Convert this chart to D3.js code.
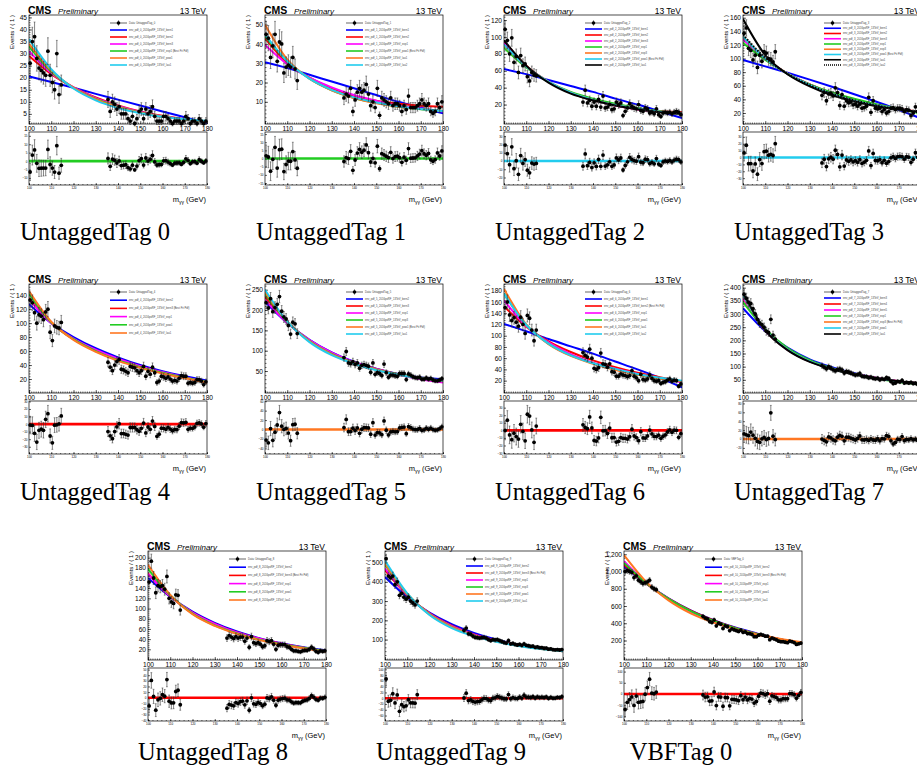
<!DOCTYPE html>
<html>
<head>
<meta charset="utf-8">
<script src="https://cdn.jsdelivr.net/npm/d3@7"></script>
<style>
  body { margin: 0; background: #fff; }
  svg { display: block; }
  .tick text { font-family: "Liberation Sans", Arial, sans-serif; }
</style>
</head>
<body>
<svg id="chart" width="917" height="784"></svg>
<script>
// ---- shared binning ---------------------------------------------------------
// diphoton mass bin centres (GeV); the signal window 115-135 is blinded
const binCenters = [100.5, 101.5, 102.5, 103.5, 104.5, 105.5, 106.5, 107.5, 108.5, 109.5,
  110.5, 111.5, 112.5, 113.5, 114.5,
  135.5, 136.5, 137.5, 138.5, 139.5, 140.5, 141.5, 142.5, 143.5, 144.5,
  145.5, 146.5, 147.5, 148.5, 149.5, 150.5, 151.5, 152.5, 153.5, 154.5,
  155.5, 156.5, 157.5, 158.5, 159.5, 160.5, 161.5, 162.5, 163.5, 164.5,
  165.5, 166.5, 167.5, 168.5, 169.5, 170.5, 171.5, 172.5, 173.5, 174.5,
  175.5, 176.5, 177.5, 178.5, 179.5];
// mass points at which each background function is tabulated
const fitMass = [100, 110, 120, 130, 140, 150, 160, 170, 180];
const xTickValues = [100, 110, 120, 130, 140, 150, 160, 170, 180];

const categoryNames = ["UntaggedTag 0", "UntaggedTag 1", "UntaggedTag 2", "UntaggedTag 3",
  "UntaggedTag 4", "UntaggedTag 5", "UntaggedTag 6", "UntaggedTag 7",
  "UntaggedTag 8", "UntaggedTag 9", "VBFTag 0"];
const dataNames = ["UntaggedTag_0", "UntaggedTag_1", "UntaggedTag_2", "UntaggedTag_3",
  "UntaggedTag_4", "UntaggedTag_5", "UntaggedTag_6", "UntaggedTag_7",
  "UntaggedTag_8", "UntaggedTag_9", "VBFTag_0"];

// ---- observed events per bin ----------------------------------------------
const eventsTag0 = [26, 35, 37, 28, 24, 23, 22, 21, 31, 21, 18, 15, 30, 13, 17,
  11, 6, 10, 9, 7, 8, 5, 5, 5, 3, 2, 4, 1, 3, 6, 7, 3, 7, 5, 6, 8, 4, 2, 2, 2,
  4, 4, 3, 2, 1, 2, 2, 2, 1, 2, 4, 3, 1, 2, 2, 1, 3, 2, 1, 2];
const eventsTag1 = [45, 43, 33, 39, 45, 31, 41, 40, 25, 28, 29, 28, 33, 27, 21,
  12, 14, 13, 17, 5, 11, 15, 17, 15, 16, 19, 14, 8, 10, 7, 17, 3, 12, 11, 10,
  9, 12, 8, 9, 9, 8, 5, 8, 6, 13, 7, 7, 7, 8, 9, 11, 9, 8, 9, 5, 4, 5, 9, 7, 10];
const eventsTag2 = [109, 96, 80, 99, 70, 77, 58, 78, 66, 68, 53, 48, 58, 55, 54,
  23, 37, 22, 25, 18, 23, 18, 26, 17, 30, 16, 17, 20, 14, 15, 23, 20, 22, 7, 12,
  16, 21, 18, 16, 15, 20, 13, 12, 16, 15, 10, 11, 9, 15, 8, 6, 10, 11, 10, 11, 9, 11, 12, 11, 8];
const eventsTag3 = [137, 145, 115, 112, 98, 105, 87, 105, 96, 110, 108, 100, 99, 95, 110,
  46, 50, 38, 48, 49, 45, 57, 50, 31, 47, 30, 38, 35, 36, 32, 33, 30, 33, 27, 28,
  30, 43, 21, 38, 27, 26, 27, 22, 25, 20, 22, 27, 28, 25, 27, 27, 26, 22, 25, 24, 16, 20, 29, 22, 20];
const eventsTag4 = [133, 129, 115, 100, 112, 110, 105, 116, 120, 87, 75, 96, 94, 93, 101,
  44, 37, 32, 40, 45, 48, 34, 33, 31, 29, 38, 37, 36, 32, 29, 32, 38, 24, 31, 27,
  37, 29, 15, 17, 24, 23, 21, 23, 20, 17, 18, 17, 21, 25, 24, 24, 14, 15, 14, 15, 19, 19, 17, 12, 16];
const eventsTag5 = [218, 205, 228, 196, 206, 214, 233, 197, 183, 178, 162, 141, 170, 166, 142,
  83, 98, 70, 68, 73, 66, 70, 57, 64, 66, 64, 62, 47, 70, 42, 46, 44, 39, 67, 46,
  35, 40, 40, 38, 37, 44, 44, 44, 29, 43, 40, 36, 34, 33, 35, 30, 30, 33, 30, 32, 28, 26, 26, 28, 31];
const eventsTag6 = [150, 160, 137, 127, 132, 124, 117, 133, 120, 104, 136, 131, 110, 91, 110,
  70, 65, 62, 76, 60, 42, 40, 43, 69, 50, 49, 44, 50, 36, 35, 28, 28, 32, 30, 29,
  27, 29, 38, 28, 25, 20, 31, 22, 21, 23, 30, 24, 20, 19, 20, 15, 17, 18, 21, 23, 19, 21, 20, 10, 14];
const eventsTag7 = [375, 360, 345, 340, 320, 300, 280, 265, 260, 250, 235, 230, 280, 220, 205,
  104, 98, 92, 100, 95, 88, 84, 90, 92, 88, 76, 82, 80, 76, 72, 68, 70, 74, 64, 62,
  62, 58, 60, 56, 54, 56, 50, 54, 52, 58, 55, 44, 36, 38, 44, 42, 48, 38, 40, 38, 40, 36, 37, 33, 36];
const eventsTag8 = [152, 193, 160, 131, 145, 143, 145, 138, 163, 120, 113, 110, 127, 126, 97,
  42, 47, 44, 41, 45, 42, 44, 44, 36, 42, 24, 45, 33, 31, 33, 30, 25, 27, 37, 35,
  37, 30, 20, 28, 29, 29, 29, 25, 24, 20, 17, 17, 16, 15, 17, 18, 18, 20, 24, 21, 16, 14, 17, 16, 17];
const eventsTag9 = [520, 430, 420, 430, 385, 400, 330, 340, 320, 310, 320, 300, 290, 280, 300,
  148, 160, 130, 128, 118, 112, 110, 108, 110, 112, 108, 100, 95, 100, 98, 100, 95, 90, 85, 82,
  95, 78, 80, 75, 72, 75, 70, 78, 70, 68, 65, 66, 60, 62, 58, 58, 55, 56, 50, 52, 48, 47, 48, 46, 48];
const eventsVbf0 = [1000, 1010, 1000, 990, 930, 950, 900, 880, 860, 870, 880, 900, 820, 800, 790,
  480, 460, 450, 420, 410, 440, 370, 400, 390, 340, 370, 360, 315, 335, 325, 315, 305, 320, 295, 300,
  280, 280, 270, 245, 245, 262, 270, 262, 250, 250, 210, 228, 218, 208, 192, 186, 186, 180, 175, 192,
  186, 176, 155, 162, 170];

// ---- background functions, tabulated at fitMass -----------------------------
const fitsTag0 = [
  [20.5, 18.2, 15.8, 13.3, 10.9, 8.5, 6.0, 3.6, 1.2],
  [29, 21.5, 16, 11.8, 8.5, 6, 4.2, 2.8, 1.8],
  [31, 22, 16, 11.5, 8.3, 5.8, 4, 2.7, 1.8],
  [33, 22.5, 15.8, 11.2, 8, 5.6, 3.9, 2.7, 1.9],
  [34, 23, 15.8, 11, 7.8, 5.5, 3.9, 2.7, 2.0],
  [36, 23.5, 15.5, 10.6, 7.4, 5.3, 3.8, 2.8, 2.1]];
const fitsTag1 = [
  [30.5, 27.5, 24, 20.5, 17, 13.5, 10, 7, 4],
  [43, 30, 22.5, 17, 13, 10.5, 9, 8, 7.5],
  [39.5, 29.5, 22.5, 17.5, 13.5, 10.5, 8, 6.5, 5],
  [44, 31, 22, 16, 12, 9.5, 7.5, 6.2, 5.3],
  [50, 32, 22, 16, 12, 9.3, 7.5, 6.3, 5.3],
  [45, 31, 22, 16.2, 12.3, 9.6, 7.7, 6.3, 5.3]];
const fitsTag2 = [
  [62, 56, 49, 42, 35, 27, 20, 12, 4],
  [95, 66, 47, 34, 25, 19, 14.5, 12, 11],
  [93, 65, 47, 34, 25.5, 19, 14.5, 11.5, 9.5],
  [87, 64, 47, 35, 27, 21, 16, 12, 9],
  [90, 65, 47, 34, 25.5, 19.5, 15, 11.5, 9],
  [91, 65, 47, 34, 25.5, 19.5, 15, 11.5, 9],
  [96, 66, 46, 33, 25, 19, 14.5, 11, 9]];
const fitsTag3 = [
  [98, 88.5, 79, 69, 58.5, 47.5, 36.5, 24.5, 12],
  [130, 100, 78, 62, 49, 39, 32, 26, 22],
  [128, 99, 78, 62, 49, 39.5, 32, 26, 21],
  [123, 98, 78, 62, 50, 41, 33, 26, 19],
  [132, 100, 77.5, 61, 48, 38, 31, 25.5, 21],
  [132, 100, 77.5, 61, 48, 38, 31, 25.5, 21],
  [158, 105, 77, 59, 46, 37, 30, 25, 21],
  [135, 101, 77.5, 61, 48, 38.5, 31, 25.5, 21]];
const fitsTag4 = [
  [127, 100, 80, 64, 51, 40, 31, 24, 18],
  [136, 101, 77, 61, 48, 38, 29, 22, 15],
  [134, 100, 78, 62, 49, 38.5, 30, 22.5, 16],
  [142, 101, 77, 60, 47, 37, 29, 22, 16],
  [146, 102, 76, 59, 46, 36, 28, 21, 15]];
const fitsTag5 = [
  [220, 168, 127, 96, 73, 56, 43, 34, 30],
  [233, 170, 124, 93, 71, 55, 42, 33, 26],
  [225, 168, 126, 95, 72, 55, 41, 30, 22],
  [240, 171, 124, 92, 70, 54, 42, 33, 26],
  [244, 172, 123, 91, 69, 53, 41, 32, 25],
  [250, 172, 121, 89, 68, 52, 41, 32, 26]];
const fitsTag6 = [
  [121, 108, 94, 81, 68, 54, 40, 25, 8],
  [152, 116, 90, 71, 56, 44, 34, 26, 18],
  [163, 117, 88, 67, 52, 41, 32, 24, 17],
  [175, 119, 86, 65, 51, 40, 31, 24, 19],
  [183, 120, 85, 64, 50, 39, 31, 24, 19],
  [175, 119, 86, 65, 51, 41, 32, 25, 20]];
const fitsTag7 = [
  [322, 235, 172, 128, 98, 75, 57, 44, 34],
  [360, 238, 165, 120, 92, 72, 57, 45, 36],
  [362, 238, 165, 120, 92, 72, 57, 45, 36],
  [345, 242, 171, 125, 94, 72, 55, 42, 32],
  [370, 240, 165, 120, 91, 71, 56, 44, 35],
  [372, 240, 165, 120, 91, 71, 56, 44, 35],
  [380, 238, 163, 118, 90, 70, 56, 45, 37]];
const fitsTag8 = [
  [160, 123, 94, 72, 55, 42, 32, 24, 18],
  [169, 124, 92, 70, 53, 41, 31, 23, 16],
  [168, 124, 92, 70, 53, 41, 31, 23, 16],
  [178, 126, 90, 67, 51, 39, 30, 23, 16],
  [186, 127, 89, 66, 50, 38, 29, 22, 15]];
const fitsTag9 = [
  [425, 320, 240, 180, 135, 100, 73, 55, 45],
  [460, 330, 236, 172, 127, 95, 72, 55, 42],
  [470, 332, 235, 170, 126, 94, 71, 53, 40],
  [490, 336, 232, 166, 122, 91, 69, 52, 40],
  [495, 337, 231, 165, 121, 90, 68, 51, 40],
  [510, 340, 228, 160, 118, 88, 67, 51, 40]];
const fitsVbf0 = [
  [1060, 860, 690, 550, 440, 350, 280, 215, 160],
  [1080, 860, 685, 545, 435, 345, 275, 215, 160],
  [1120, 870, 680, 535, 425, 340, 272, 216, 170],
  [1100, 865, 683, 540, 430, 343, 274, 215, 165],
  [1190, 880, 665, 515, 410, 330, 268, 220, 180]];

// function names shown in each legend, and which one is the best fit
const fitNamesTag0 = ["bern1", "bern2", "bern3", "exp1", "pow1", "lau1"];
const fitNamesTag1 = ["bern1", "bern2", "exp1", "pow1", "lau1", "lau2"];
const fitNamesTag2 = ["bern1", "bern2", "bern3", "exp1", "exp3", "pow1", "lau1"];
const fitNamesTag3 = ["bern1", "bern2", "bern3", "exp1", "exp3", "pow1", "lau1", "lau2"];
const fitNamesTag4 = ["bern2", "bern3", "exp1", "pow1", "lau1"];
const fitNamesTag5 = ["bern2", "bern3", "exp1", "exp3", "pow1", "lau1"];
const fitNamesTag6 = ["bern1", "bern2", "exp1", "pow1", "lau1", "lau2"];
const fitNamesTag7 = ["bern3", "bern4", "bern5", "exp1", "exp3", "pow1", "lau1"];
const fitNamesTag8 = ["bern2", "bern3", "exp1", "pow1", "lau1"];
const fitNamesTag9 = ["bern2", "bern3", "exp1", "exp3", "pow1", "lau1"];
const fitNamesVbf0 = ["bern2", "bern3", "exp1", "pow1", "lau1"];
const bestFitIndex = [3, 3, 5, 5, 1, 4, 1, 4, 1, 1, 1];

// line colours in legend order (the 8th entry is drawn dotted)
const fitColors = ["#0000ff", "#ff0000", "#ff00ff", "#22cc22", "#ff7722", "#22ccee", "#000000", "#000000"];

// y-axis ranges and labelled ticks of the main pads
const yDomains = [[0.8, 46], [-1.5, 55], [-3, 126], [3.8, 164], [0, 156], [-4, 264],
  [-2, 192], [0, 414], [-1, 213], [-6, 560], [-26, 1238]];
const yTickLists = [
  [5, 10, 15, 20, 25, 30, 35, 40, 45],
  [10, 20, 30, 40, 50],
  [20, 40, 60, 80, 100, 120],
  [20, 40, 60, 80, 100, 120, 140, 160],
  [20, 40, 60, 80, 100, 120, 140],
  [50, 100, 150, 200, 250],
  [20, 40, 60, 80, 100, 120, 140, 160, 180],
  [50, 100, 150, 200, 250, 300, 350, 400],
  [20, 40, 60, 80, 100, 120, 140, 160, 180, 200],
  [100, 200, 300, 400, 500],
  [200, 400, 600, 800, 1000, 1200]];
const yMinorSteps = [1, 2, 4, 4, 4, 10, 4, 10, 4, 20, 40];

// ---- page placement -----------------------------------------------------------
const panelLeft = [29, 265, 504, 743, 29, 265, 504, 743, 148, 385, 624];
const panelTop = [0, 0, 0, 0, 269, 269, 269, 269, 536, 536, 536];
const captionX = [95, 331, 570, 809, 95, 331, 570, 809, 213, 451, 681];
const captionY = [240, 240, 240, 240, 500, 500, 500, 500, 760, 760, 760];

const events = [eventsTag0, eventsTag1, eventsTag2, eventsTag3, eventsTag4, eventsTag5,
  eventsTag6, eventsTag7, eventsTag8, eventsTag9, eventsVbf0];
const fits = [fitsTag0, fitsTag1, fitsTag2, fitsTag3, fitsTag4, fitsTag5,
  fitsTag6, fitsTag7, fitsTag8, fitsTag9, fitsVbf0];
const fitNames = [fitNamesTag0, fitNamesTag1, fitNamesTag2, fitNamesTag3, fitNamesTag4,
  fitNamesTag5, fitNamesTag6, fitNamesTag7, fitNamesTag8, fitNamesTag9, fitNamesVbf0];

const panels = categoryNames.map((name, i) => ({
  index: i, name, dataName: dataNames[i], counts: events[i], fits: fits[i],
  fitNames: fitNames[i], best: bestFitIndex[i], yDomain: yDomains[i],
  yTicks: yTickLists[i], yMinor: yMinorSteps[i],
  left: panelLeft[i], top: panelTop[i], capX: captionX[i], capY: captionY[i]
}));

// ---- drawing -------------------------------------------------------------------
const SANS = "'Liberation Sans', Arial, Helvetica, sans-serif";
const svg = d3.select("#chart");
svg.append("rect").attr("width", 917).attr("height", 784).attr("fill", "#fff");

const W = 178, FTOP = 15, AXY = 124, LTOP = 132, LBOT = 185;

function styleAxis(sel, fontSize) {
  sel.select(".domain").remove();
  sel.selectAll(".tick line").attr("stroke", "#000").attr("stroke-width", 0.6);
  sel.selectAll(".tick text").attr("font-size", fontSize).attr("fill", "#000")
    .attr("font-family", SANS);
}

function minorValues(domain, step) {
  const lo = Math.ceil(Math.min(...domain) / step) * step;
  const hi = Math.max(...domain);
  return d3.range(lo, hi + 1e-9, step);
}

function drawPanel(p) {
  const g = svg.append("g").attr("transform", `translate(${p.left},${p.top})`);
  const x = d3.scaleLinear().domain([100, 180]).range([0, W]);
  const y = d3.scaleLinear().domain(p.yDomain).range([AXY, FTOP]);

  const clipId = "clip" + p.index;
  g.append("clipPath").attr("id", clipId).append("rect")
    .attr("x", 0).attr("y", FTOP).attr("width", W).attr("height", AXY - FTOP);

  // axes of the main pad
  const xMajor = g.append("g").attr("transform", `translate(0,${AXY})`)
    .call(d3.axisBottom(x).tickValues(xTickValues).tickSize(-3).tickPadding(2.5).tickFormat(d3.format("d")));
  styleAxis(xMajor, 6.6);
  const xMinor = g.append("g").attr("transform", `translate(0,${AXY})`)
    .call(d3.axisBottom(x).tickValues(d3.range(100, 181, 1)).tickSize(-1.5).tickFormat(""));
  styleAxis(xMinor, 0);
  const yMajor = g.append("g")
    .call(d3.axisLeft(y).tickValues(p.yTicks).tickSize(-3).tickPadding(2));
  styleAxis(yMajor, 6.6);
  const yMinor = g.append("g")
    .call(d3.axisLeft(y).tickValues(minorValues(p.yDomain, p.yMinor)).tickSize(-1.5).tickFormat(""));
  styleAxis(yMinor, 0);

  // background functions
  const line = d3.line().x((d, i) => x(fitMass[i])).y(d => y(d)).curve(d3.curveMonotoneX);
  const curves = g.append("g").attr("clip-path", `url(#${clipId})`);
  p.fits.forEach((vals, k) => {
    curves.append("path").attr("d", line(vals)).attr("fill", "none")
      .attr("stroke", fitColors[k]).attr("stroke-width", 2)
      .attr("stroke-dasharray", k === 7 ? "1.5,1.5" : null);
  });

  // data with Poisson uncertainties
  const pts = p.counts.map((c, i) => ({ m: binCenters[i], n: c, e: Math.sqrt(c) }));
  drawPoints(g, pts, x, y, d => d.n);

  g.append("rect").attr("x", 0).attr("y", FTOP).attr("width", W).attr("height", AXY - FTOP)
    .attr("fill", "none").attr("stroke", "#000").attr("stroke-width", 0.7);

  // legend
  const rows = p.fits.length + 1;
  const step = Math.min(8.2, 42 / (rows - 1));
  const leg = g.append("g").attr("transform", `translate(81,${FTOP + 8})`);
  leg.append("line").attr("x1", 0).attr("x2", 17).attr("y1", 0).attr("y2", 0)
    .attr("stroke", "#000").attr("stroke-width", 0.6);
  leg.append("line").attr("x1", 8.5).attr("x2", 8.5).attr("y1", -2.6).attr("y2", 2.6)
    .attr("stroke", "#000").attr("stroke-width", 0.6);
  leg.append("circle").attr("cx", 8.5).attr("cy", 0).attr("r", 1.8).attr("fill", "#000");
  leg.append("text").attr("x", 19).attr("y", 0.9).attr("font-size", 2.7)
    .attr("font-family", SANS).attr("fill", "#444").text("Data: " + p.dataName);
  const cat = p.index;
  p.fitNames.forEach((nm, k) => {
    const yy = step * (k + 1);
    leg.append("line").attr("x1", 0).attr("x2", 17).attr("y1", yy).attr("y2", yy)
      .attr("stroke", fitColors[k]).attr("stroke-width", 1.6)
      .attr("stroke-dasharray", k === 7 ? "1,1" : null);
    leg.append("text").attr("x", 19).attr("y", yy + 0.9).attr("font-size", 2.7)
      .attr("font-family", SANS).attr("fill", "#444")
      .text(`env_pdf_${cat}_2016pxRF_13TeV_${nm}` + (k === p.best ? " (Best Fit Pdf)" : ""));
  });

  // header texts
  g.append("text").attr("x", -1).attr("y", FTOP - 1).attr("font-family", SANS)
    .attr("font-weight", "bold").attr("font-size", 10.5).text("CMS");
  g.append("text").attr("x", 29).attr("y", FTOP - 1).attr("font-family", SANS)
    .attr("font-style", "italic").attr("font-size", 8).text("Preliminary");
  g.append("text").attr("x", W - 1).attr("y", FTOP - 1).attr("font-family", SANS)
    .attr("text-anchor", "end").attr("font-size", 8.5).text("13 TeV");
  g.append("text").attr("transform", "rotate(-90)").attr("x", -FTOP).attr("y", -15)
    .attr("text-anchor", "end").attr("font-family", SANS).attr("font-size", 6)
    .text("Events / ( 1 )");

  // residual pad: data minus best-fit function
  const bestAt = d3.scaleLinear().domain(fitMass).range(p.fits[p.best]);
  const res = pts.map(d => ({ m: d.m, r: d.n - bestAt(d.m), e: d.e }));
  const lo = d3.min(res, d => d.r - d.e), hi = d3.max(res, d => d.r + d.e);
  const pad = (hi - lo) * 0.1;
  const ry = d3.scaleLinear().domain([lo - pad, hi + pad]).range([LBOT, LTOP]);

  const rxMajor = g.append("g").attr("transform", `translate(0,${LBOT})`)
    .call(d3.axisBottom(x).tickValues(xTickValues).tickSize(-2).tickPadding(1.5).tickFormat(d3.format("d")));
  styleAxis(rxMajor, 3);
  const rxMinor = g.append("g").attr("transform", `translate(0,${LBOT})`)
    .call(d3.axisBottom(x).tickValues(d3.range(100, 181, 2)).tickSize(-1).tickFormat(""));
  styleAxis(rxMinor, 0);
  const ryAxis = g.append("g")
    .call(d3.axisLeft(ry).ticks(7).tickSize(-2).tickPadding(1.5));
  styleAxis(ryAxis, 3);

  g.append("line").attr("x1", 0).attr("x2", W).attr("y1", ry(0)).attr("y2", ry(0))
    .attr("stroke", fitColors[p.best]).attr("stroke-width", 2.6);
  drawPoints(g, res, x, ry, d => d.r);
  g.append("rect").attr("x", 0).attr("y", LTOP).attr("width", W).attr("height", LBOT - LTOP)
    .attr("fill", "none").attr("stroke", "#000").attr("stroke-width", 0.7);

  // x-axis title
  const t = g.append("text").attr("x", W - 1).attr("y", LBOT + 17).attr("text-anchor", "end")
    .attr("font-family", SANS).attr("font-size", 7.5);
  t.append("tspan").text("m");
  t.append("tspan").attr("font-size", 5).attr("dy", 1.5).text("γγ");
  t.append("tspan").attr("dy", -1.5).text(" (GeV)");

  // category caption
  svg.append("text").attr("x", p.capX).attr("y", p.capY).attr("text-anchor", "middle")
    .attr("font-family", "'Liberation Serif', 'DejaVu Serif', serif").attr("font-size", 24.5)
    .text(p.name);
}

function drawPoints(g, pts, x, y, val) {
  const pg = g.append("g");
  pts.forEach(d => {
    const cx = x(d.m), cy = y(val(d));
    const y1 = y(val(d) - d.e), y2 = y(val(d) + d.e);
    pg.append("line").attr("x1", cx).attr("x2", cx).attr("y1", y1).attr("y2", y2)
      .attr("stroke", "#333").attr("stroke-width", 0.6);
    pg.append("line").attr("x1", cx - 0.9).attr("x2", cx + 0.9).attr("y1", y1).attr("y2", y1)
      .attr("stroke", "#333").attr("stroke-width", 0.5);
    pg.append("line").attr("x1", cx - 0.9).attr("x2", cx + 0.9).attr("y1", y2).attr("y2", y2)
      .attr("stroke", "#333").attr("stroke-width", 0.5);
    pg.append("circle").attr("cx", cx).attr("cy", cy).attr("r", 1.9).attr("fill", "#000");
  });
}

panels.forEach(drawPanel);
</script>
</body>
</html>
